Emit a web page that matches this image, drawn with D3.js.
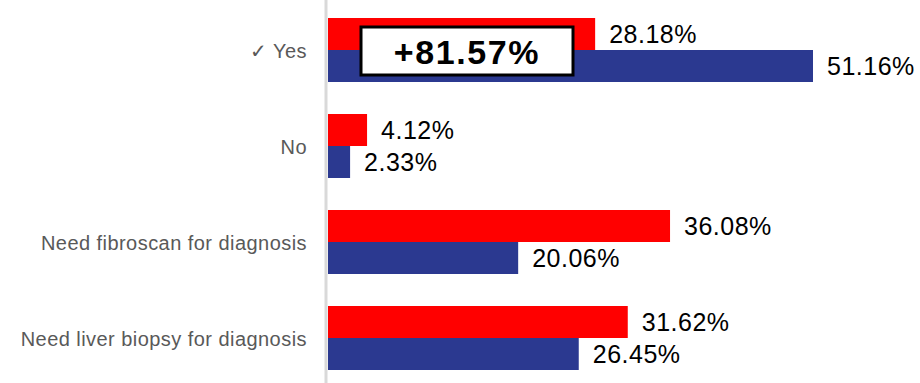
<!DOCTYPE html>
<html>
<head>
<meta charset="utf-8">
<script src="https://cdn.jsdelivr.net/npm/d3@7"></script>
<style>
  html, body { margin: 0; padding: 0; background: #fff; }
  svg { display: block; }
</style>
</head>
<body>
<svg id="chart" width="920" height="383"></svg>
<script>
// Survey answers and the share of respondents for each wave
const categories = ["✓ Yes", "No", "Need fibroscan for diagnosis", "Need liver biopsy for diagnosis"];
const seriesKeys = ["previous", "current"];
const previousValues = [28.18, 4.12, 36.08, 31.62];
const currentValues = [51.16, 2.33, 20.06, 26.45];
const changeLabel = "+81.57%";

const seriesColors = { previous: "#ff0000", current: "#2b3990" };

const width = 920, height = 383;
const svg = d3.select("#chart");

const rows = categories.map((c, i) => ({
  category: c,
  values: [
    { key: "previous", value: previousValues[i] },
    { key: "current", value: currentValues[i] }
  ]
}));

const x = d3.scaleLinear().domain([0, 60]).range([328, 328 + 60 * 9.48]);
const y = d3.scaleBand().domain(categories).range([2, 386]).padding(0);
const ySub = d3.scaleBand().domain(seriesKeys).range([0, y.bandwidth()])
  .paddingInner(0).paddingOuter(0.5);

// Category axis on the left
const axis = d3.axisLeft(y).tickSize(0).tickPadding(20);
const gAxis = svg.append("g")
  .attr("transform", `translate(${x(0) - 1},0)`)
  .call(axis);
gAxis.select(".domain").remove();
gAxis.selectAll("text")
  .attr("fill", "#595959")
  .attr("dy", "0.4em")
  .style("font-family", "'Liberation Sans', Arial, sans-serif")
  .style("font-size", "20px")
  .style("letter-spacing", "0.45px");

svg.append("line")
  .attr("x1", x(0) - 2).attr("x2", x(0) - 2)
  .attr("y1", 0).attr("y2", height)
  .attr("stroke", "#d9d9d9").attr("stroke-width", 3);

const groups = svg.append("g").selectAll("g")
  .data(rows).join("g")
  .attr("transform", d => `translate(0,${y(d.category)})`);

groups.selectAll("rect")
  .data(d => d.values).join("rect")
  .attr("x", x(0))
  .attr("y", d => ySub(d.key))
  .attr("width", d => x(d.value) - x(0))
  .attr("height", ySub.bandwidth())
  .attr("fill", d => seriesColors[d.key]);

groups.selectAll("text.value")
  .data(d => d.values).join("text")
  .attr("class", "value")
  .attr("x", d => x(d.value) + 14)
  .attr("y", d => ySub(d.key) + ySub.bandwidth() / 2)
  .attr("dy", "0.36em")
  .attr("fill", "#000")
  .style("font-family", "'Liberation Sans', Arial, sans-serif")
  .style("font-size", "25px")
  .style("letter-spacing", "0.5px")
  .text(d => d.value.toFixed(2) + "%");

// Highlighted change between the two waves for "Yes"
const yesTop = y(categories[0]);
const box = svg.append("g");
box.append("rect")
  .attr("x", 361).attr("y", yesTop + 25)
  .attr("width", 212).attr("height", 48)
  .attr("fill", "#fff")
  .attr("stroke", "#000").attr("stroke-width", 3);
box.append("text")
  .attr("x", 467).attr("y", yesTop + 50)
  .attr("dy", "0.36em")
  .attr("text-anchor", "middle")
  .style("font-family", "'Liberation Sans', Arial, sans-serif")
  .style("font-size", "34px")
  .style("font-weight", "bold")
  .style("letter-spacing", "1.6px")
  .text(changeLabel);
</script>
</body>
</html>
